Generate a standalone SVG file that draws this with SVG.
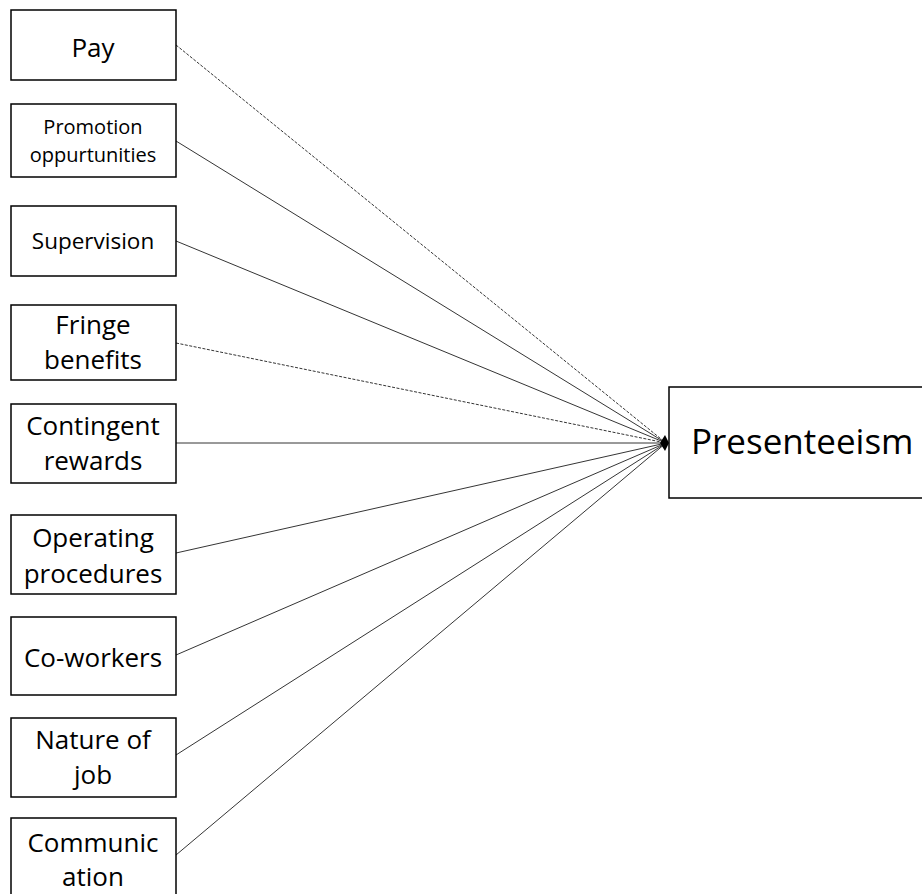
<svg xmlns="http://www.w3.org/2000/svg" width="922" height="894" viewBox="0 0 922 894">
<defs>
<style>
.box{fill:#fff;stroke:#000;stroke-width:1.5}
.t{font-family:"Open Sans","Liberation Sans",sans-serif;font-size:26px;text-anchor:middle;fill:#000}
.s{font-size:20px}
.big{font-size:35px}
.c{stroke:#000;stroke-width:0.8;fill:none}
.d{stroke-dasharray:3 1.5}
</style>
</defs>
<g id="connectors">
<line class="c d" x1="176" y1="45" x2="666" y2="443"/>
<line class="c" x1="176" y1="141" x2="666" y2="443"/>
<line class="c" x1="176" y1="241" x2="666" y2="443"/>
<line class="c d" x1="176" y1="343" x2="666" y2="443"/>
<line class="c" x1="176" y1="443" x2="666" y2="443"/>
<line class="c" x1="176" y1="553" x2="666" y2="443"/>
<line class="c" x1="176" y1="655" x2="666" y2="443"/>
<line class="c" x1="176" y1="755" x2="666" y2="443"/>
<line class="c" x1="176" y1="855" x2="666" y2="443"/>
<path d="M660,443 L665,435 L669,443 L665,451 Z" fill="#000"/>
</g>
<g id="pay"><rect class="box" x="11" y="10" width="165" height="70"/><text class="t" x="93" y="57">Pay</text></g>
<g id="promotion"><rect class="box" x="11" y="104" width="165" height="73"/><text class="t s" x="93" y="134">Promotion</text><text class="t s" x="93" y="162">oppurtunities</text></g>
<g id="supervision"><rect class="box" x="11" y="206" width="165" height="70"/><text class="t" x="93" y="249" style="font-size:22.5px">Supervision</text></g>
<g id="fringe"><rect class="box" x="11" y="305" width="165" height="75"/><text class="t" x="93" y="334">Fringe</text><text class="t" x="93" y="369">benefits</text></g>
<g id="contingent"><rect class="box" x="11" y="404" width="165" height="79"/><text class="t" x="93" y="435">Contingent</text><text class="t" x="93" y="470">rewards</text></g>
<g id="operating"><rect class="box" x="11" y="515" width="165" height="79"/><text class="t" x="93" y="547">Operating</text><text class="t" x="93" y="583">procedures</text></g>
<g id="coworkers"><rect class="box" x="11" y="617" width="165" height="78"/><text class="t" x="93" y="667">Co-workers</text></g>
<g id="nature"><rect class="box" x="11" y="718" width="165" height="79"/><text class="t" x="93" y="749">Nature of</text><text class="t" x="93" y="784">job</text></g>
<g id="communication"><rect class="box" x="11" y="818" width="165" height="90"/><text class="t" x="93" y="852">Communic</text><text class="t" x="93" y="886">ation</text></g>
<g id="presenteeism"><rect class="box" x="669" y="387" width="270" height="111"/><text class="t big" x="691" y="454" style="text-anchor:start">Presenteeism</text></g>
</svg>
